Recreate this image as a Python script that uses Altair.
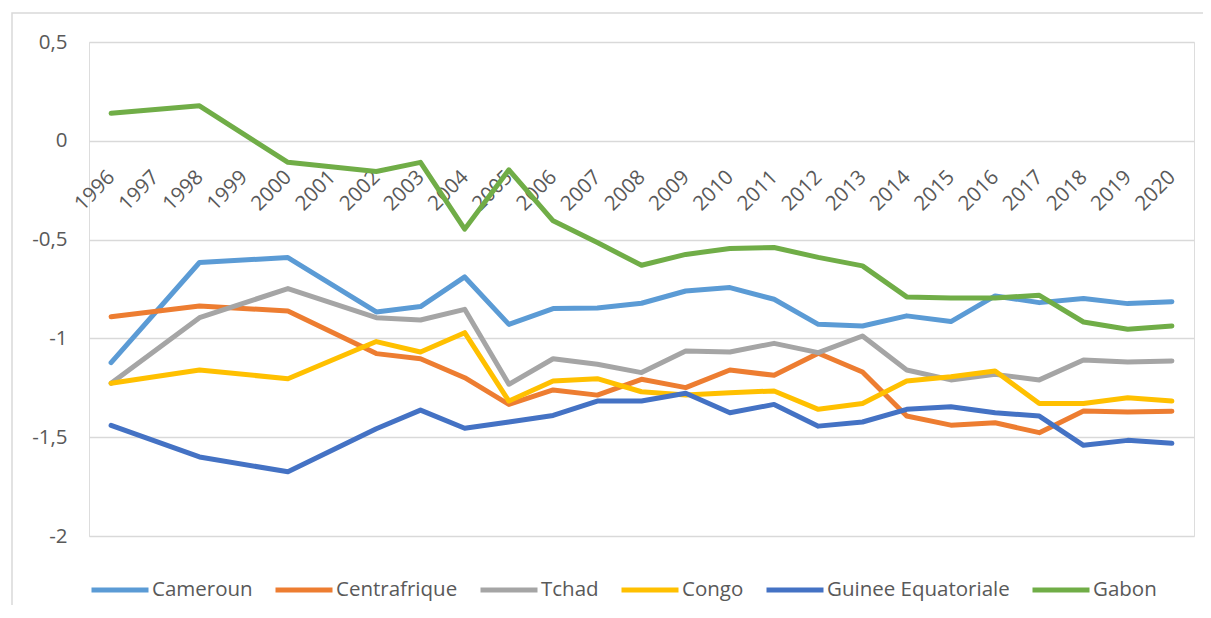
import altair as alt
import pandas as pd

years = [1996, 1998, 2000, 2002, 2003, 2004, 2005, 2006, 2007, 2008, 2009,
         2010, 2011, 2012, 2013, 2014, 2015, 2016, 2017, 2018, 2019, 2020]
tick_years = list(range(1996, 2021))

cameroun = [-1.123, -0.616, -0.591, -0.866, -0.839, -0.689, -0.929, -0.849, -0.846, -0.822, -0.760,
            -0.743, -0.802, -0.929, -0.937, -0.886, -0.915, -0.785, -0.819, -0.798, -0.824, -0.814]
centrafrique = [-0.890, -0.836, -0.861, -1.077, -1.103, -1.199, -1.334, -1.261, -1.287, -1.207, -1.249,
                -1.160, -1.187, -1.075, -1.170, -1.393, -1.439, -1.427, -1.477, -1.368, -1.373, -1.369]
tchad = [-1.227, -0.895, -0.748, -0.895, -0.907, -0.853, -1.232, -1.103, -1.131, -1.173, -1.064,
         -1.069, -1.025, -1.072, -0.988, -1.160, -1.210, -1.182, -1.210, -1.109, -1.120, -1.114]
congo = [-1.227, -1.160, -1.204, -1.016, -1.069, -0.971, -1.317, -1.216, -1.204, -1.270, -1.287,
         -1.275, -1.266, -1.359, -1.329, -1.216, -1.194, -1.165, -1.329, -1.329, -1.300, -1.317]
guinee = [-1.440, -1.600, -1.675, -1.457, -1.363, -1.455, -1.423, -1.390, -1.317, -1.317, -1.278,
          -1.376, -1.334, -1.444, -1.423, -1.359, -1.346, -1.376, -1.393, -1.541, -1.516, -1.531]
gabon = [0.139, 0.177, -0.109, -0.155, -0.109, -0.447, -0.147, -0.405, -0.515, -0.630, -0.575,
         -0.545, -0.540, -0.590, -0.633, -0.790, -0.795, -0.795, -0.782, -0.917, -0.954, -0.937]

series_names = ["Cameroun", "Centrafrique", "Tchad", "Congo", "Guinee Equatoriale", "Gabon"]
series_values = [cameroun, centrafrique, tchad, congo, guinee, gabon]
series_colors = ["#5B9BD5", "#ED7D31", "#A5A5A5", "#FFC000", "#4472C4", "#70AD47"]
y_ticks = [-2, -1.5, -1, -0.5, 0, 0.5]

rows = []
for name, vals in zip(series_names, series_values):
    for yr, v in zip(years, vals):
        rows.append({"Pays": name, "Annee": yr, "Valeur": v, "ordre": series_names.index(name)})
df = pd.DataFrame(rows)

FONT = "Open Sans"
TXT = "#595959"
W, H = 1105, 494

lines = alt.Chart(df).mark_line(
    strokeWidth=5, strokeCap="round", strokeJoin="round"
).encode(
    x=alt.X("Annee:Q",
            scale=alt.Scale(domain=[1995.5, 2020.5], nice=False, zero=False),
            axis=alt.Axis(values=tick_years, format="d", title=None, grid=False,
                          domain=False, ticks=False, tickSize=0, labelAngle=-45,
                          labelAlign="right", labelBaseline="middle", labelPadding=33,
                          offset=-H * 2 / 2.5, labelFont=FONT, labelFontSize=20.5,
                          labelColor=TXT, labelOverlap=False)),
    y=alt.Y("Valeur:Q",
            scale=alt.Scale(domain=[-2, 0.5], nice=False, zero=False),
            axis=alt.Axis(values=y_ticks, title=None, grid=True, gridColor="#D9D9D9",
                          gridWidth=1.5, domain=False, ticks=False, labelPadding=22,
                          labelFont=FONT, labelFontSize=20.5, labelColor=TXT,
                          labelExpr="replace(toString(datum.value), '.', ',')")),
    color=alt.Color("Pays:N",
                    scale=alt.Scale(domain=series_names, range=series_colors),
                    sort=series_names,
                    legend=alt.Legend(title=None, orient="none", legendX=0, legendY=517,
                                      direction="horizontal", columns=6, gridAlign="none",
                                      symbolType="stroke", symbolSize=3249,
                                      symbolStrokeWidth=5, labelOffset=1,
                                      columnPadding=12, labelFont=FONT, labelLimit=0,
                                      labelFontSize=20.5, labelColor=TXT)),
    order=alt.Order("ordre:Q"),
)

border = alt.Chart(pd.DataFrame({"a": [0]})).mark_rect(
    fill="transparent", stroke="#D9D9D9", strokeWidth=1.5
).encode(
    x=alt.value(-77), x2=alt.value(1300),
    y=alt.value(-29), y2=alt.value(800),
)

chart = alt.layer(border, lines).properties(
    width=W, height=H,
    autosize=alt.AutoSizeParams(type="none"),
    padding={"left": 81, "top": 34, "right": 9, "bottom": 69},
).configure_view(stroke=None).configure(background="white")

chart.save("out.html", embed_options={"renderer": "svg", "actions": False})
